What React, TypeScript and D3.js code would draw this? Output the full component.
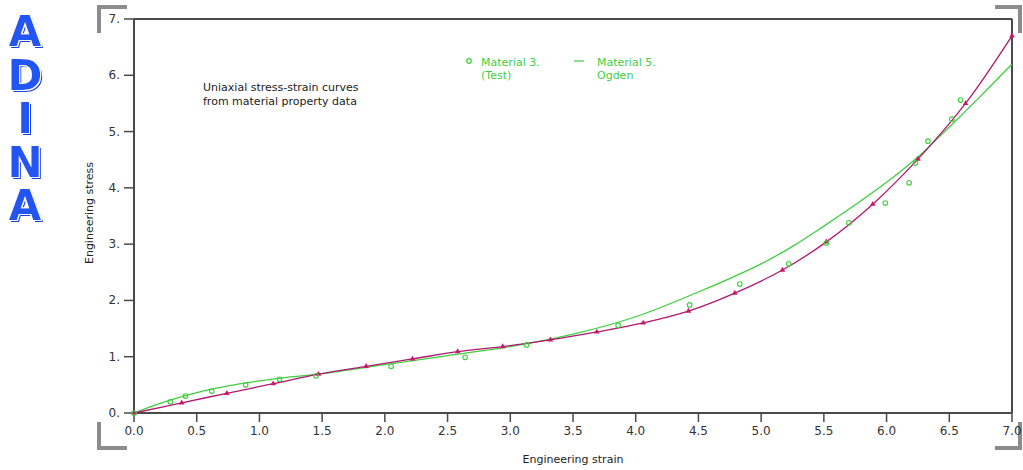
import React from "react";
import * as d3 from "d3";

// Test data (Material 3)
const testStrain = [0.0, 0.29, 0.41, 0.62, 0.89, 1.16, 1.45, 2.05, 2.64, 3.13, 3.86, 4.43, 4.83, 5.22, 5.52, 5.70, 5.99, 6.18, 6.23, 6.33, 6.52, 6.59];
const testStress = [0.0, 0.2, 0.3, 0.39, 0.5, 0.6, 0.66, 0.83, 0.99, 1.21, 1.56, 1.92, 2.29, 2.65, 3.02, 3.38, 3.73, 4.09, 4.44, 4.83, 5.22, 5.56];

// Ogden fit curve (Material 5)
const ogdenStrain = [0, 0.25, 0.5, 0.75, 1.0, 1.25, 1.5, 2.0, 2.5, 3.0, 3.5, 4.0, 4.5, 5.0, 5.25, 5.5, 5.75, 6.0, 6.25, 6.5, 6.75, 7.0];
const ogdenStress = [0, 0.2, 0.36, 0.48, 0.57, 0.64, 0.7, 0.86, 1.02, 1.18, 1.4, 1.71, 2.15, 2.65, 2.96, 3.32, 3.7, 4.1, 4.55, 5.08, 5.63, 6.2];

// Magenta curve with markers
const magStrain = [0, 0.38, 0.74, 1.11, 1.47, 1.85, 2.22, 2.58, 2.94, 3.32, 3.69, 4.06, 4.42, 4.79, 5.17, 5.52, 5.89, 6.25, 6.63, 7.0];
const magStress = [0, 0.18, 0.35, 0.52, 0.69, 0.83, 0.96, 1.09, 1.18, 1.3, 1.44, 1.6, 1.81, 2.13, 2.54, 3.04, 3.71, 4.51, 5.5, 6.7];

const xTicks = [0, 0.5, 1, 1.5, 2, 2.5, 3, 3.5, 4, 4.5, 5, 5.5, 6, 6.5, 7];
const yTicks = [0, 1, 2, 3, 4, 5, 6, 7];
const logoText = "ADINA";

const GREEN = "#3fcf3f";
const MAG = "#b0186e";
const AXIS = "#4a4a4a";
const GRAY = "#8c8c8c";
const FONT = "'DejaVu Sans', sans-serif";

export default function App() {
  const x = d3.scaleLinear().domain([0, 7]).range([134, 1012]);
  const y = d3.scaleLinear().domain([0, 7]).range([413, 19]);

  const line = d3
    .line<[number, number]>()
    .x((d) => x(d[0]))
    .y((d) => y(d[1]))
    .curve(d3.curveCatmullRom.alpha(0.5));

  const ogden: [number, number][] = ogdenStrain.map((s, i) => [s, ogdenStress[i]]);
  const mag: [number, number][] = magStrain.map((s, i) => [s, magStress[i]]);
  const tri = d3.symbol().type(d3.symbolTriangle).size(14)();

  return (
    <svg
      width={1023}
      height={470}
      style={{ position: "absolute", left: 0, top: 0, background: "#fff" }}
    >
      <defs>
        <filter id="logoShadow" x="-30%" y="-10%" width="160%" height="120%">
          <feMorphology in="SourceAlpha" operator="dilate" radius="1" result="grown" />
          <feFlood floodColor="#ffffff" result="white" />
          <feComposite in="white" in2="grown" operator="in" result="whiteEdge" />
          <feOffset in="SourceAlpha" dx="2" dy="2" result="off" />
          <feFlood floodColor="#1640d8" result="blue" />
          <feComposite in="blue" in2="off" operator="in" result="shadow" />
          <feMerge>
            <feMergeNode in="shadow" />
            <feMergeNode in="whiteEdge" />
            <feMergeNode in="SourceGraphic" />
          </feMerge>
        </filter>
      </defs>

      {/* ADINA logo, stacked vertically in one text */}
      <text
        x={25}
        y={7}
        style={{ writingMode: "vertical-rl", textOrientation: "upright" } as React.CSSProperties}
        fontFamily="'DejaVu Sans', sans-serif"
        fontWeight={700}
        fontSize={42}
        letterSpacing={-5.5}
        fill="#2456f2"
        filter="url(#logoShadow)"
      >
        {logoText}
      </text>

      {/* corner brackets */}
      <g stroke={GRAY} strokeWidth={4} fill="none">
        <path d="M99,33 V7 H127" />
        <path d="M99,422 V448 H127" />
        <path d="M995,7 H1020 V33" />
        <path d="M995,448 H1020 V422" />
      </g>

      {/* frame */}
      <g stroke={AXIS} strokeWidth={2} fill="none">
        <line x1={x(0)} x2={x(7)} y1={y(7)} y2={y(7)} />
        <line x1={x(7)} x2={x(7)} y1={y(7)} y2={y(0)} />
        <line x1={x(0)} x2={x(7)} y1={y(0)} y2={y(0)} />
        <line x1={x(0)} x2={x(0)} y1={y(7)} y2={y(0)} />
      </g>

      {/* y ticks */}
      {yTicks.map((t) => (
        <g key={"y" + t}>
          <line x1={x(0) - 10} x2={x(0)} y1={y(t)} y2={y(t)} stroke={AXIS} strokeWidth={1.5} />
          <text x={120} y={y(t) + 4} textAnchor="end" fontFamily={FONT} fontSize={12} fill="#333">
            {t + "."}
          </text>
        </g>
      ))}

      {/* x ticks */}
      {xTicks.map((t) => (
        <g key={"x" + t}>
          <line x1={x(t)} x2={x(t)} y1={y(0)} y2={y(0) + 9} stroke={AXIS} strokeWidth={1.5} />
          <text x={x(t)} y={435} textAnchor="middle" fontFamily={FONT} fontSize={12} fill="#333">
            {t.toFixed(1)}
          </text>
        </g>
      ))}

      {/* axis titles */}
      <text x={573} y={463} textAnchor="middle" fontFamily={FONT} fontSize={11} fill="#222">
        Engineering strain
      </text>
      <text
        transform="translate(93,213) rotate(-90)"
        textAnchor="middle"
        fontFamily={FONT}
        fontSize={11}
        fill="#222"
      >
        Engineering stress
      </text>

      {/* annotation */}
      <text fontFamily={FONT} fontSize={11} fill="#222">
        <tspan x={203} y={91}>Uniaxial stress-strain curves</tspan>
        <tspan x={203} y={105}>from material property data</tspan>
      </text>

      {/* legend */}
      <circle cx={469} cy={61} r={2.3} fill="none" stroke={GREEN} strokeWidth={1.2} />
      <text fontFamily={FONT} fontSize={11} fill={GREEN}>
        <tspan x={481} y={66}>Material 3.</tspan>
        <tspan x={481} y={79}>(Test)</tspan>
      </text>
      <line x1={574} x2={584} y1={61} y2={61} stroke={GREEN} strokeWidth={1.2} />
      <text fontFamily={FONT} fontSize={11} fill={GREEN}>
        <tspan x={597} y={66}>Material 5.</tspan>
        <tspan x={597} y={79}>Ogden</tspan>
      </text>

      {/* curves */}
      <path d={line(ogden) || ""} fill="none" stroke={GREEN} strokeWidth={1.3} />
      <path d={line(mag) || ""} fill="none" stroke={MAG} strokeWidth={1.3} />

      {/* magenta markers */}
      {mag.map((d, i) => (
        <path key={"m" + i} d={tri || ""} transform={`translate(${x(d[0])},${y(d[1])})`} fill="#c81a66" />
      ))}

      {/* test points */}
      {testStrain.map((s, i) => (
        <circle key={"t" + i} cx={x(s)} cy={y(testStress[i])} r={2.3} fill="none" stroke={GREEN} strokeWidth={1.1} />
      ))}
    </svg>
  );
}
